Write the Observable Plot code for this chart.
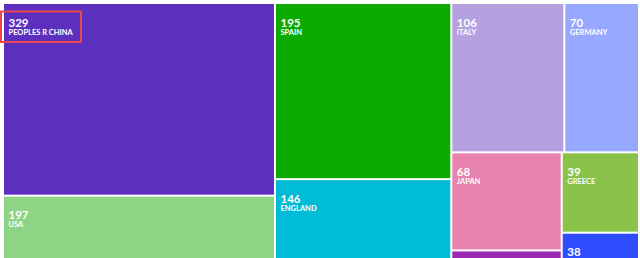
<!DOCTYPE html>
<html>
<head>
<meta charset="utf-8">
<script src="https://cdn.jsdelivr.net/npm/d3@7"></script>
<script src="https://cdn.jsdelivr.net/npm/@observablehq/plot@0.6"></script>
<style>
  html, body { margin: 0; padding: 0; background: #fff; overflow: hidden; }
  #chart svg { display: block; }
</style>
</head>
<body>
<div id="chart"></div>
<script>
const countries = ["PEOPLES R CHINA", "USA", "SPAIN", "ENGLAND", "ITALY", "GERMANY", "JAPAN", "CANADA", "GREECE", "FRANCE"];
const counts = [329, 197, 195, 146, 106, 70, 68, 42, 39, 38];
const colors = ["#5c2fbf", "#8dd585", "#0dab00", "#00bcd6", "#b5a1e0", "#97a8ff", "#e882ae", "#9c27b0", "#8bc34a", "#2f4dff"];
const highlighted = "PEOPLES R CHINA";

const root = d3.hierarchy({children: countries.map((name, i) => ({name, value: counts[i], color: colors[i]}))})
  .sum(d => d.value || 0)
  .sort((a, b) => b.value - a.value);
d3.treemap().tile(d3.treemapSquarify).size([634, 306]).paddingInner(2)(root);
const leaves = root.leaves().map(n => ({...n.data, x0: n.x0, x1: n.x1, y0: n.y0, y1: n.y1}));

const chart = Plot.plot({
  width: 640,
  height: 258,
  marginLeft: 4,
  marginRight: 2,
  marginTop: 4,
  marginBottom: 0,
  x: {domain: [0, 634], range: [4, 638], axis: null},
  y: {domain: [0, 306], range: [4, 310], axis: null},
  style: {fontFamily: "Lato, sans-serif", background: "#fff"},
  marks: [
    Plot.rect(leaves, {x1: "x0", x2: "x1", y1: "y0", y2: "y1", fill: d => d.color, clip: true}),
    Plot.text(leaves, {x: "x0", y: "y0", text: d => String(d.value), dx: 4, dy: 22, textAnchor: "start", lineAnchor: "bottom", fill: "white", fontSize: 11.5, fontWeight: 700, clip: true}),
    Plot.text(leaves, {x: "x0", y: "y0", text: "name", dx: 4, dy: 30, textAnchor: "start", lineAnchor: "bottom", fill: "white", fontSize: 7.5, fontWeight: 700, clip: true})
  ]
});
document.getElementById("chart").append(chart);
// highlight box around the first label, placed from the leaf position through the scales
const sx = chart.scale("x"), sy = chart.scale("y");
const hl = leaves.find(d => d.name === highlighted);
d3.select(chart).append("rect")
  .attr("x", sx.apply(hl.x0) - 3)
  .attr("y", sy.apply(hl.y0) + 7.5)
  .attr("width", 80)
  .attr("height", 30.5)
  .attr("fill", "none")
  .attr("stroke", "#e8474b")
  .attr("stroke-width", 2);
</script>
</body>
</html>
